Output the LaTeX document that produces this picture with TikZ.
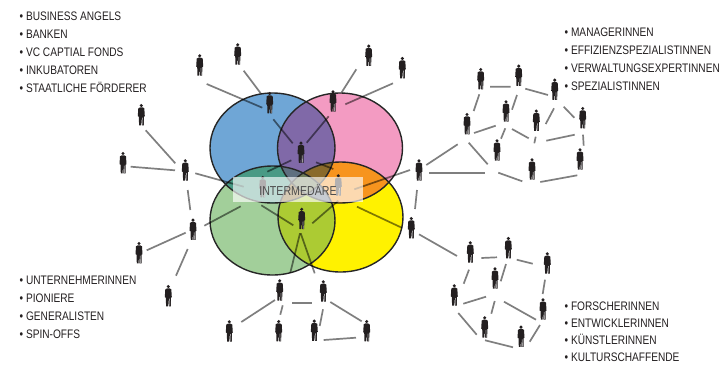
\documentclass[tikz,border=0pt]{standalone}
\usepackage{fontspec}
\setmainfont{Liberation Sans}[FakeStretch=0.82]
\definecolor{inkc}{HTML}{231F20}
\definecolor{cblue}{HTML}{6FA6D6}
\definecolor{cpink}{HTML}{F39BC2}
\definecolor{cgreen}{HTML}{A2CF9A}
\definecolor{cyel}{HTML}{FFF200}
\definecolor{cpurple}{HTML}{8069A8}
\definecolor{cteal}{HTML}{4A9A85}
\definecolor{corange}{HTML}{F7941E}
\definecolor{clime}{HTML}{ACCB33}
\definecolor{cslate}{HTML}{5F6F80}
\definecolor{cbrown}{HTML}{8A6A2A}
\definecolor{colive}{HTML}{6F7C58}
\tikzset{
  person/.style={inner sep=0pt,minimum width=8bp,minimum height=22bp,
    path picture={
      \begin{scope}[shift={(path picture bounding box.center)}]
      \fill[inkc] (0,-9.2) circle [radius=1.7bp];
      \fill[inkc] (-1.2,-7.4) -- (1.2,-7.4) -- (3,-6.4) -- (3.5,1.6) -- (2.6,1.9)
        -- (2.5,10.6) -- (0.5,10.6) -- (0.1,3) -- (-0.5,10.6) -- (-2.2,10.6)
        -- (-2.5,1.9) -- (-3.5,1.6) -- (-3,-6.4) -- cycle;
      \draw[white!55!inkc,line width=.7bp] (1.2,3) -- (1.6,10.4);
      \end{scope}
    }},
  linkline/.style={black,opacity=.5,line width=1.7bp},
  outline/.style={draw=black!85,line width=1.4bp},
  listitem/.style={anchor=base west,inner sep=0pt,text=inkc,font=\fontsize{12.4}{14}\selectfont},
  labelbox/.style={fill=white,fill opacity=.65,inner sep=0pt,minimum width=130bp,minimum height=25bp},
  labeltext/.style={inner sep=0pt,text=black!70,font=\fontsize{13}{15}\selectfont}
}
\newcommand{\ellB}{(272.5,148) ellipse [x radius=62.5bp,y radius=55bp]}
\newcommand{\ellP}{(340,148) ellipse [x radius=62.5bp,y radius=55bp]}
\newcommand{\ellG}{(272.5,220.5) ellipse [x radius=62.5bp,y radius=54.5bp]}
\newcommand{\ellY}{(340.5,217) ellipse [x radius=62.5bp,y radius=55bp]}
\newcommand{\lens}[3]{\begin{scope}\clip #1;\fill[#3] #2;\end{scope}}
\newcommand{\conn}[4]{\draw[linkline] ([shift={(#2)}]#1.center) -- ([shift={(#4)}]#3.center);}
\newcommand{\pers}[2]{\node[person] (#1) at (#2) {};}
\newcommand{\listline}[3]{\node[listitem] (#1) at (#2) {• #3};}
\begin{document}
\begin{tikzpicture}[x=1bp,y=-1bp]
\useasboundingbox (0,0) rectangle (724,364);
% circles
\fill[cblue] \ellB;
\fill[cpink] \ellP;
\fill[cgreen] \ellG;
\fill[cyel] \ellY;
\lens{\ellB}{\ellP}{cpurple}
\lens{\ellB}{\ellG}{cteal}
\lens{\ellP}{\ellY}{corange}
\lens{\ellG}{\ellY}{clime}
\lens{\ellP}{\ellG}{cslate}
\lens{\ellB}{\ellY}{cbrown}
\begin{scope}\clip \ellB;\clip \ellG;\lens{\ellP}{\ellY}{colive}\end{scope}
\draw[outline] \ellB;
\draw[outline] \ellP;
\draw[outline] \ellG;
\draw[outline] \ellY;
% people
\pers{aa}{237.7,54}\pers{ab}{199.7,65}\pers{ac}{269.7,102.7}\pers{cc}{301,152.3}
\pers{ad}{141.3,114.7}\pers{ae}{123,162.7}\pers{af}{185.3,170}
\pers{fa}{262.7,186.7}\pers{fb}{338.3,185}\pers{dd}{301.7,218.5}
\pers{ba}{333,101}\pers{bb}{368.7,55.3}\pers{bc}{402.3,67.7}
\pers{ee}{411.3,227.7}\pers{rr}{419,170}
\pers{gg}{193,229.3}\pers{pp}{139,252.7}\pers{qq}{168.3,295.7}
\pers{ha}{279.7,290}\pers{hb}{323.3,291}
\pers{ia}{229.3,331}\pers{ib}{278.7,330.7}\pers{ic}{314.3,330.3}\pers{id}{366.7,330.7}
\pers{ta}{480.7,78.7}\pers{tb}{518.7,75.3}\pers{tc}{554.7,89.3}\pers{td}{506,111}
\pers{te}{536.3,120.3}\pers{tf}{582.7,117.7}\pers{tg}{467,123.7}\pers{th}{497,150}
\pers{ti}{580,159}\pers{tj}{532,169}
\pers{ua}{470.3,252}\pers{ub}{508.3,247.7}\pers{uc}{547.3,263}\pers{ud}{495,278}
\pers{ue}{454.3,295}\pers{uf}{543,309}\pers{ug}{484.7,327}\pers{uh}{521,336.3}
% connectors
\conn{aa}{6,16.7}{ac}{-9,-9.4}
\conn{ab}{7,19}{ac}{-7.4,5}
\conn{ac}{3.6,16.6}{cc}{-8.3,-9}
\conn{ba}{-4.3,15.3}{cc}{5.7,-9.6}
\conn{bb}{-12.4,14}{ba}{8.7,-8.7}
\conn{bc}{-9.3,15.6}{ba}{12.3,3.3}
\conn{ad}{4.4,15.6}{af}{-10,-6.7}
\conn{ae}{7.7,4}{af}{-10.3,0.3}
\conn{af}{10,3.3}{fa}{-19,0}
\conn{af}{2.4,20}{gg}{-2.7,-19.3}
\conn{cc}{-9.7,8}{fa}{4.6,-15}
\conn{cc}{15,10}{fb}{-5,-16}
\conn{rr}{-9,0}{fb}{16,4.3}
\conn{rr}{-2,20}{ee}{3.7,-18.7}
\conn{ee}{-9.6,0}{fb}{18.7,21.7}
\conn{fb}{0,15.7}{dd}{10.6,4.8}
\conn{fa}{-1.4,18.6}{dd}{-8.4,6.8}
\conn{fa}{-22,19.6}{gg}{11.3,-3.6}
\conn{dd}{-1.7,14.8}{ha}{10.6,-17.3}
\conn{dd}{-1,14.8}{hb}{-8.6,-17.7}
\conn{gg}{-7.3,3.4}{pp}{7.7,-2.4}
\conn{gg}{-5.3,19.7}{qq}{7.7,-20}
\conn{ha}{-4.7,10}{ia}{12,-9}
\conn{ha}{3,15.3}{ib}{1.6,-16}
\conn{ha}{12.3,13}{hb}{-11.6,12}
\conn{hb}{-0.3,18.3}{ic}{5.4,-4.3}
\conn{hb}{7,11}{id}{-5,-9.4}
\conn{ic}{9.4,9.7}{id}{-10.7,7}
\conn{rr}{7.3,-5}{tg}{-9.3,20.6}
\conn{rr}{10.3,3}{th}{-11.7,23}
\conn{tg}{1.7,19}{th}{-9.3,14.3}
\conn{th}{1.3,22.7}{tj}{-9.7,12.3}
\conn{tj}{8.3,13}{ti}{-2.7,16.3}
\conn{tg}{7,9.3}{td}{-10.3,14.7}
\conn{th}{4,-11.3}{td}{-0.7,17.3}
\conn{td}{6,18}{te}{-7.6,18}
\conn{tj}{2.3,-25.7}{te}{-0.6,16.4}
\conn{te}{10,20.4}{tf}{-8,17}
\conn{ti}{3.7,-13.3}{tf}{0.3,17}
\conn{te}{9.4,3.7}{tc}{-0.7,19}
\conn{tc}{9,17.4}{tf}{-8.4,0}
\conn{tb}{6.6,13.4}{tc}{-6.7,5.7}
\conn{ta}{9.3,8}{tb}{-8,11.4}
\conn{ta}{-1.4,15.6}{tg}{6.7,-12.7}
\conn{tb}{-1.7,19.7}{td}{6,-1.3}
\conn{ee}{7.7,6.6}{ua}{-13.3,4}
\conn{ua}{11,6}{ub}{-11.3,9.6}
\conn{ub}{8.4,12}{uc}{-14.6,0.7}
\conn{ua}{-1.3,17.7}{ue}{9.4,-11.3}
\conn{ub}{-2.3,16.3}{ud}{5.7,3.3}
\conn{uc}{-2.3,16.7}{uf}{-0.3,-15}
\conn{ue}{9,8.7}{ud}{-9,18.7}
\conn{ud}{-0.3,23}{ug}{6.6,-13.3}
\conn{ud}{9,23.7}{uf}{-7,10.7}
\conn{ue}{4,18}{ug}{-8,7.7}
\conn{ug}{0.3,13.3}{uh}{-8,11}
\conn{uh}{8.7,5.4}{uf}{-3,16}
% label
\node[labelbox] (box) at (298,189.8) {};
\node[labeltext] (lab) at (box.center) {INTERMEDÄRE};
% lists
\listline{la}{19.5,20}{BUSINESS ANGELS}
\listline{lb}{19.5,38}{BANKEN}
\listline{lc}{19.5,56}{VC CAPTIAL FONDS}
\listline{ld}{19.5,74}{INKUBATOREN}
\listline{le}{19.5,92}{STAATLICHE FÖRDERER}
\listline{ma}{564.5,36}{MANAGERINNEN}
\listline{mb}{564.5,54}{EFFIZIENZSPEZIALISTINNEN}
\listline{mc}{564.5,72}{VERWALTUNGSEXPERTINNEN}
\listline{md}{564.5,90}{SPEZIALISTINNEN}
\listline{na}{19.5,284}{UNTERNEHMERINNEN}
\listline{nb}{19.5,302}{PIONIERE}
\listline{nc}{19.5,320}{GENERALISTEN}
\listline{nd}{19.5,338}{SPIN-OFFS}
\listline{oa}{564.5,310}{FORSCHERINNEN}
\listline{ob}{564.5,327.5}{ENTWICKLERINNEN}
\listline{oc}{564.5,344.5}{KÜNSTLERINNEN}
\listline{od}{564.5,361}{KULTURSCHAFFENDE}
\end{tikzpicture}
\end{document}
